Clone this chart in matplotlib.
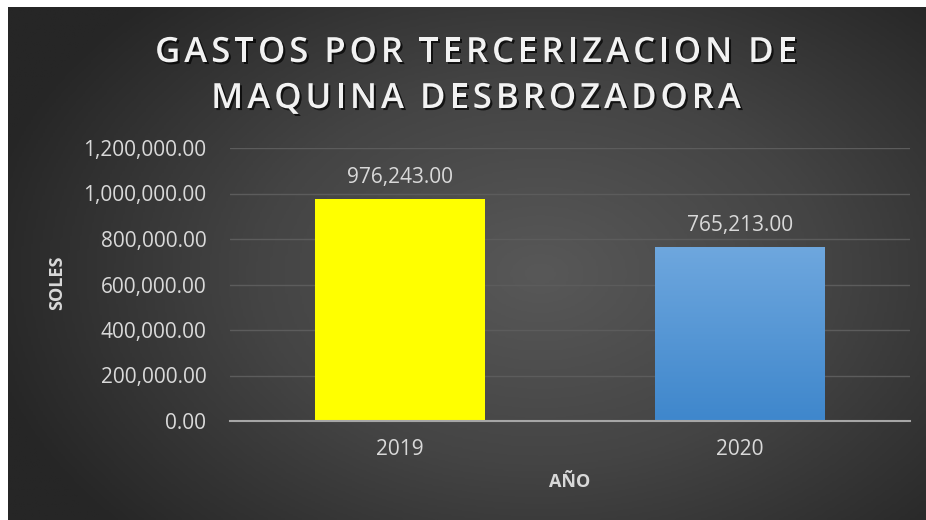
import matplotlib
matplotlib.use('Agg')
import matplotlib.pyplot as plt
import matplotlib.patheffects as pe
from matplotlib.colors import LinearSegmentedColormap
import numpy as np

# ========== DATA ==========
years = ['2019', '2020']
gastos = [976243.00, 765213.00]
yticks = [0, 200000, 400000, 600000, 800000, 1000000, 1200000]
title_lines = ['GASTOS POR TERCERIZACION DE', 'MAQUINA DESBROZADORA']

plt.rcParams['font.family'] = ['Open Sans', 'DejaVu Sans']

W, H = 926, 520
fig = plt.figure(figsize=(W / 100, H / 100), dpi=100)
fig.patch.set_facecolor('white')

# radial dark background (Excel style)
bg = fig.add_axes([8 / W, 0, (W - 8) / W, (H - 7) / H])
bg.set_axis_off()
gx, gy = np.meshgrid(np.linspace(0, 1, 400), np.linspace(0, 1, 240))
r = np.sqrt(((gx - 0.58) / 0.62) ** 2 + ((gy - 0.52) / 0.75) ** 2)
r = np.clip(r, 0, 1)
bg_cmap = LinearSegmentedColormap.from_list('bg', ['#585858', '#444444', '#262626'])
bg.imshow(r, cmap=bg_cmap, aspect='auto', extent=[0, 1, 0, 1], vmin=0, vmax=1)
bg.set_xlim(0, 1)
bg.set_ylim(0, 1)

# plot area
ax = fig.add_axes([230 / W, (H - 421) / H, 680 / W, 273 / H])
ax.set_facecolor('none')
x = np.arange(len(years))
bars = ax.bar(x, gastos, width=0.5, color=['#ffff00', '#5b9bd5'], zorder=3,
              linewidth=0)
for b in bars:
    b.set_path_effects([pe.SimplePatchShadow(offset=(0, 0), shadow_rgbFace='#1a1a1a',
                                             alpha=0.6), pe.Normal()])

# gradient fill on the 2020 bar
b2 = bars[1]
grad = np.linspace(0, 1, 100).reshape(-1, 1)
blue_cmap = LinearSegmentedColormap.from_list('blue', ['#3f87cc', '#6ea7de'])
im = ax.imshow(grad, cmap=blue_cmap, aspect='auto', origin='lower', zorder=4,
               extent=[b2.get_x(), b2.get_x() + b2.get_width(), 0, b2.get_height()])
im.set_clip_path(b2)

for xi, v in zip(x, gastos):
    ax.annotate(f'{v:,.2f}', (xi, v), textcoords='offset points', xytext=(0, 11.5),
                ha='center', va='baseline', fontsize=15, color='#d9d9d9')

ax.set_xlim(-0.5, 1.5)
ax.set_ylim(0, 1200000)
ax.set_yticks(yticks)
ax.set_yticklabels([f'{t:,.2f}' for t in yticks])
ax.set_xticks(x)
ax.set_xticklabels(years)
ax.tick_params(axis='both', length=0, labelsize=15, labelcolor='#d9d9d9')
ax.tick_params(axis='y', pad=17)
ax.tick_params(axis='x', pad=13)
ax.grid(axis='y', color='#5c5c5c', linewidth=1, zorder=0)
for s in ['top', 'right', 'left']:
    ax.spines[s].set_visible(False)
ax.spines['bottom'].set_color('#a6a6a6')
ax.spines['bottom'].set_linewidth(1.5)
ax.spines['bottom'].set_zorder(5)

ax.set_xlabel('AÑO', fontsize=13, fontweight='bold', color='#d9d9d9', va='center')
ax.xaxis.set_label_coords(0.5, -0.2234)
ax.set_ylabel('SOLES', fontsize=13, fontweight='bold', color='#d9d9d9', va='center')
ax.yaxis.set_label_coords(-0.2544, 0.5055)

# title with letter spacing: place each character by hand
shadow = [pe.withSimplePatchShadow(offset=(1.5, -1.5), shadow_rgbFace='black', alpha=0.7)]
renderer = fig.canvas.get_renderer()
tracking = 4.0  # extra px between letters
title_cx = 476
for i, line in enumerate(title_lines):
    widths = []
    for ch in line:
        t = fig.text(0, 0, ch if ch != ' ' else 'I', fontsize=25, fontweight='semibold')
        w = t.get_window_extent(renderer).width
        t.remove()
        widths.append(w * 0.75 if ch == ' ' else w)
    total = sum(widths) + tracking * (len(line) - 1)
    px = title_cx - total / 2
    base_y = 1 - (62 + 46 * i) / H
    for ch, w in zip(line, widths):
        if ch != ' ':
            fig.text(px / W, base_y, ch, ha='left', va='baseline', fontsize=25,
                     fontweight='semibold', color='#f2f2f2', path_effects=shadow)
        px += w + tracking

plt.savefig('out.png', dpi=100)
plt.close()
